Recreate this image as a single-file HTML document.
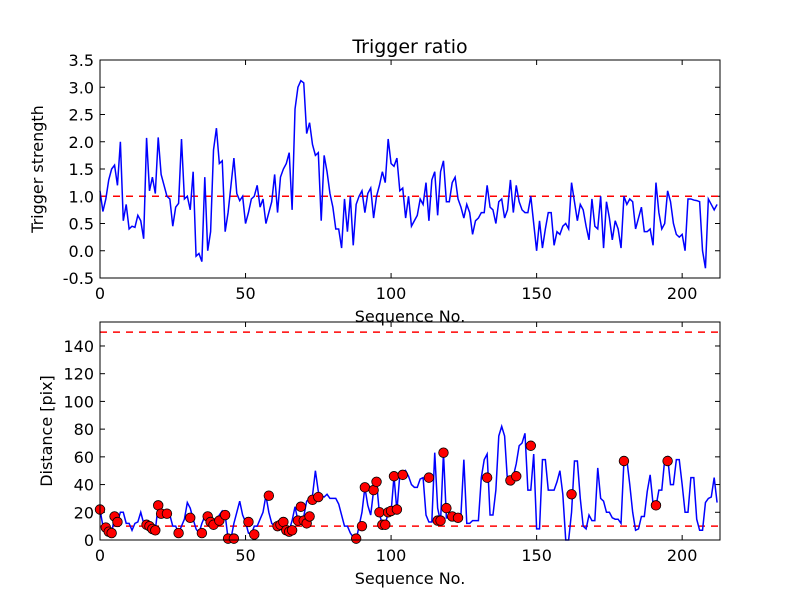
<!DOCTYPE html>
<html><head><meta charset="utf-8"><style>
body{margin:0;background:#fff}
svg{font-family:"DejaVu Sans","Liberation Sans",sans-serif}
</style></head><body>
<svg id="c" width="800" height="600" xmlns="http://www.w3.org/2000/svg">
<rect width="800" height="600" fill="#fff"/>
</svg>
<script>
const ratioValues=[1.1,0.72,0.95,1.3,1.5,1.57,1.2,2.0,0.55,0.85,0.4,0.45,0.43,0.65,0.55,0.22,2.07,1.1,1.35,1.05,2.08,1.4,1.2,1.0,0.95,0.45,0.8,0.87,2.05,0.95,1.0,0.75,1.45,-0.1,-0.05,-0.2,1.35,0.0,0.35,1.85,2.25,1.6,1.65,0.35,0.7,1.2,1.7,1.05,0.92,1.0,0.5,0.7,0.95,1.0,1.2,0.8,0.95,0.5,0.7,0.9,1.4,0.7,1.35,1.5,1.6,1.8,0.75,2.6,3.0,3.12,3.08,2.15,2.35,1.95,1.75,1.8,0.55,1.75,1.45,1.05,0.8,0.4,0.4,0.05,0.95,0.35,1.0,0.1,0.85,1.0,1.1,0.7,1.05,1.15,0.6,1.0,1.2,1.45,1.25,2.05,1.6,1.55,1.7,1.1,1.15,0.6,1.0,0.45,0.55,0.65,0.95,0.85,1.25,0.55,1.3,1.45,0.65,1.45,1.65,0.9,0.9,1.25,1.35,0.95,0.8,0.6,0.85,0.7,0.3,0.55,0.6,0.7,0.7,1.2,0.8,0.75,0.5,0.9,0.95,0.6,0.75,1.3,0.7,1.2,0.9,0.75,0.7,0.7,1.0,0.5,0.0,0.55,0.05,0.4,0.7,0.7,0.1,0.35,0.3,0.45,0.5,0.4,1.25,0.9,0.55,0.85,0.75,0.45,0.2,0.95,0.45,0.4,1.0,0.05,0.9,0.6,0.2,0.55,0.4,0.05,1.0,0.85,0.95,0.9,0.4,0.6,0.8,0.35,0.35,0.4,0.1,1.25,0.7,0.4,0.5,1.1,0.9,0.5,0.3,0.25,0.3,0.0,0.95,0.95,0.93,0.92,0.9,0.0,-0.32,0.95,0.85,0.75,0.85];
const distValues=[22,10,8,5,5,17,13,20,20,12,12,7,12,13,20,12,10,10,8,7,25,19,19,18,18,10,10,5,10,15,27,23,15,8,5,12,17,15,11,12,14,18,21,18,1,1,12,20,28,18,13,5,4,10,10,15,20,32,20,12,10,12,13,7,6,7,14,24,14,12,17,28,30,32,50,35,32,31,33,30,30,30,26,18,10,10,5,2,0,10,20,38,25,18,36,42,19,11,11,20,20,46,21,47,46,50,46,40,38,38,44,45,18,13,13,63,23,13,63,16,16,16,16,18,18,58,12,12,14,14,14,45,58,62,18,18,36,75,82,75,42,46,46,55,68,70,77,36,36,62,8,8,58,58,36,36,36,42,50,33,0,0,20,57,57,30,10,8,18,14,14,52,30,28,20,20,16,15,15,12,57,58,40,20,7,8,17,17,35,47,26,24,36,36,58,60,40,40,58,58,40,20,20,45,45,15,7,7,27,30,31,45,27];
const markerIdx=[0,2,3,4,5,6,16,17,18,19,20,21,23,27,31,35,37,38,39,41,43,44,46,51,53,58,61,62,63,64,65,66,68,69,70,71,72,73,75,88,90,91,94,95,96,97,98,99,100,101,102,104,113,116,117,118,119,121,123,133,141,143,148,162,180,191,195];
const markerVal=[22,9,6,5,17,13,11,10,8,7,25,19,19,5,16,5,17,13,11,14,18,1,1,13,4,32,10,11,13,7,6,7,14,24,14,12,17,29,31,1,10,38,36,42,20,11,11,20,21,46,22,47,45,14,14,63,23,17,16,45,43,46,68,33,57,25,57];
const topTicks=[-0.5,0.0,0.5,1.0,1.5,2.0,2.5,3.0,3.5];
const botTicks=[0,20,40,60,80,100,120,140];
const xTicks=[0,50,100,150,200];
const thresholdTop=1.0, thresholdsBot=[10,150];

const S=document.getElementById('c'),NS='http://www.w3.org/2000/svg';
function el(t,a,p){const e=document.createElementNS(NS,t);for(const k in a)e.setAttribute(k,a[k]);(p||S).appendChild(e);return e;}
const X0=100,X1=720,XMAX=213;
const xs=v=>X0+v/XMAX*(X1-X0);
const panels=[{top:60,bot:278,min:-0.5,max:3.5,ticks:topTicks,fmt:v=>v.toFixed(1),name:'top'},
{top:322,bot:540,min:0,max:157.3,ticks:botTicks,fmt:v=>String(v),name:'bottom'}];
panels.forEach((P,pi)=>{
 const ys=v=>P.bot-(v-P.min)/(P.max-P.min)*(P.bot-P.top);P.ys=ys;
 const g=el('g',{});
 P.g=g;
 P.ticks.forEach(t=>{const y=ys(t);
  el('line',{x1:X0,x2:X0+5,y1:y,y2:y,stroke:'#000'},g);el('line',{x1:X1,x2:X1-5,y1:y,y2:y,stroke:'#000'},g);
  const tx=el('text',{x:X0-6,y:y+6,'text-anchor':'end','font-size':'16'},g);tx.textContent=P.fmt(t);
  });
 xTicks.forEach(t=>{const x=xs(t);
  el('line',{x1:x,x2:x,y1:P.bot,y2:P.bot-5,stroke:'#000'},g);el('line',{x1:x,x2:x,y1:P.top,y2:P.top+5,stroke:'#000'},g);
  const tx=el('text',{x:x,y:P.bot+21,'text-anchor':'middle','font-size':'16'},g);tx.textContent=String(t);
  });
 const xl=el('text',{x:410,y:P.bot+44,'text-anchor':'middle','font-size':'16'},g);xl.textContent='Sequence No.';
 
});
const P0=panels[0],P1=panels[1];
const th=el('line',{x1:X0,x2:X1,y1:P0.ys(thresholdTop),y2:P0.ys(thresholdTop),stroke:'#f00','stroke-width':1.5,'stroke-dasharray':'7,6'});

const l0=el('polyline',{fill:'none',stroke:'#00f','stroke-width':1.5,points:ratioValues.map((v,i)=>xs(i)+','+P0.ys(v)).join(' ')});

thresholdsBot.forEach(t=>{const l=el('line',{x1:X0,x2:X1,y1:P1.ys(t),y2:P1.ys(t),stroke:'#f00','stroke-width':1.5,'stroke-dasharray':'7,6'});
 });
const l1=el('polyline',{fill:'none',stroke:'#00f','stroke-width':1.5,points:distValues.map((v,i)=>xs(i)+','+P1.ys(v)).join(' ')});

markerIdx.forEach((ix,k)=>{const c=el('circle',{cx:xs(ix),cy:P1.ys(markerVal[k]),r:4.8,fill:'#f00',stroke:'#000','stroke-width':0.8});
 });
panels.forEach(P=>{const r=el('rect',{x:X0,y:P.top,width:X1-X0,height:P.bot-P.top,fill:'none',stroke:'#000','stroke-width':1});
 });
const t=el('text',{x:410,y:53,'text-anchor':'middle','font-size':'19'});t.textContent='Trigger ratio';

const y0=el('text',{x:0,y:0,'text-anchor':'middle','font-size':'16',transform:'translate(43,169) rotate(-90)'});y0.textContent='Trigger strength';

const y1=el('text',{x:0,y:0,'text-anchor':'middle','font-size':'16',transform:'translate(52,431) rotate(-90)'});y1.textContent='Distance [pix]';

</script>
</body></html>
